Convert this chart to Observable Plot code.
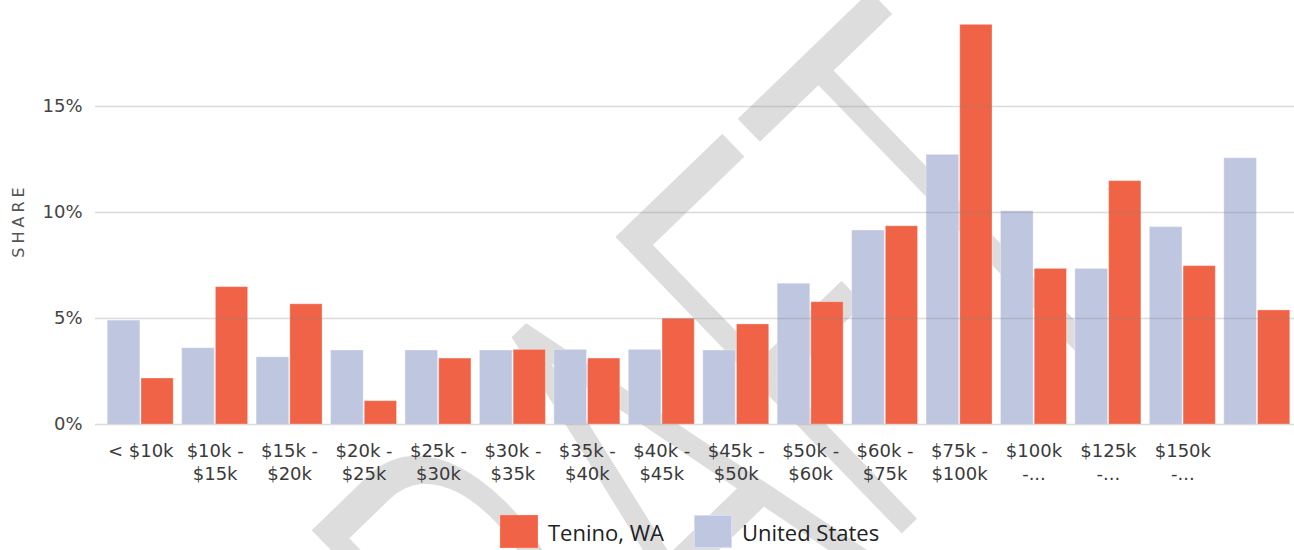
<!DOCTYPE html>
<html>
<head>
<meta charset="utf-8">
<script src="https://cdn.jsdelivr.net/npm/d3@7"></script>
<script src="https://cdn.jsdelivr.net/npm/@observablehq/plot@0.6"></script>
<style>
  html, body { margin: 0; padding: 0; background: #fff; }
  #wrap { position: relative; width: 1294px; height: 550px; overflow: hidden; }
  #legend { position: absolute; left: 500px; top: 515px; display: flex; align-items: center;
            font-family: "Open Sans", "Noto Sans", sans-serif; font-size: 22px; color: #222; }
  .item { display: flex; align-items: center; }
  .sw { width: 38px; height: 33px; box-sizing: border-box; margin-right: 10px; }
</style>
</head>
<body>
<div id="wrap"><div id="chart"></div><div id="legend"></div></div>
<script>
// ---- data (percent share of households by income bracket) ----
const categories = ["< $10k", "$10k - $15k", "$15k - $20k", "$20k - $25k", "$25k - $30k", "$30k - $35k",
  "$35k - $40k", "$40k - $45k", "$45k - $50k", "$50k - $60k", "$60k - $75k", "$75k - $100k",
  "$100k - $125k", "$125k - $150k", "$150k - $200k", "$200k+"];
const tickLabels = ["< $10k", "$10k -\n$15k", "$15k -\n$20k", "$20k -\n$25k", "$25k -\n$30k", "$30k -\n$35k",
  "$35k -\n$40k", "$40k -\n$45k", "$45k -\n$50k", "$50k -\n$60k", "$60k -\n$75k", "$75k -\n$100k",
  "$100k\n-...", "$125k\n-...", "$150k\n-...", ""];
const unitedStates = [4.9, 3.6, 3.17, 3.49, 3.49, 3.49, 3.52, 3.52, 3.49, 6.64, 9.15, 12.72, 10.06, 7.34, 9.31, 12.56];
const tenino       = [2.17, 6.48, 5.67, 1.1, 3.11, 3.52, 3.11, 4.99, 4.72, 5.77, 9.35, 18.85, 7.34, 11.48, 7.47, 5.38];
const seriesNames = ["Tenino, WA", "United States"];
const seriesColors = ["#f06346", "#bfc7e0"];
const yTicks = [0, 5, 10, 15];
const watermarkText = "DRAFT";
const axisTitle = "SHARE";

// ---- table built from the arrays ----
const rows = categories.flatMap((c, i) => [
  {i, cat: c, series: "United States", value: unitedStates[i]},
  {i, cat: c, series: "Tenino, WA", value: tenino[i]}
]);
const isUS = d => d.series === "United States";

const chart = Plot.plot({
  width: 1294, height: 550,
  marginLeft: 103, marginRight: 0, marginTop: 0, marginBottom: 126,
  style: {background: "transparent", fontFamily: "DejaVu Sans, sans-serif", fontSize: "18px", color: "#444"},
  x: {domain: [0, categories.length], axis: null},
  y: {domain: [0, 20], ticks: yTicks, tickFormat: d => d + "%", tickSize: 0, tickPadding: 21, label: null},
  color: {domain: seriesNames, range: seriesColors},
  marks: [
    Plot.rect(rows, {
      x1: d => d.i + (isUS(d) ? 0.057 : 0.51),
      x2: d => d.i + (isUS(d) ? 0.495 : 0.943),
      y1: 0, y2: "value", fill: "series",
      stroke: "#fff", strokeOpacity: 0.3, strokeWidth: 1
    }),
    Plot.ruleY(yTicks, {stroke: "#888", strokeOpacity: 0.3, strokeWidth: 1.6, insetLeft: -8}),
    Plot.text(tickLabels, {x: (d, i) => i + 0.5, y: 0, text: d => d, lineAnchor: "top",
      lineHeight: 1.28, dy: 16, fill: "#3a3a3a", fontSize: 18}),
    Plot.text([axisTitle], {frameAnchor: "left", textAnchor: "middle", dx: -85, dy: 8, rotate: -90,
      text: d => d, fill: "#555", fontSize: 16})
  ]
});
document.getElementById("chart").appendChild(chart);

// letter spacing for the axis title
d3.select(chart).selectAll("text").filter(function() { return this.textContent === axisTitle; })
  .style("letter-spacing", "4px");

// watermark behind the marks
const styleEl = chart.querySelector("style");
const wm = document.createElementNS("http://www.w3.org/2000/svg", "text");
wm.textContent = watermarkText;
wm.setAttribute("text-anchor", "middle");
wm.setAttribute("transform", "translate(790,640) rotate(-44) scale(0.58,1)");
wm.setAttribute("font-family", "Roboto, sans-serif");
wm.setAttribute("font-weight", "300");
wm.setAttribute("font-size", "577");
wm.setAttribute("fill", "#dddddd");
wm.setAttribute("stroke", "#dddddd");
wm.setAttribute("stroke-width", "2");
wm.setAttribute("stroke-linejoin", "round");
chart.insertBefore(wm, styleEl ? styleEl.nextSibling : chart.firstChild);

// legend
const legend = d3.select("#legend");
seriesNames.forEach((name, k) => {
  const item = legend.append("div").attr("class", "item").style("margin-right", k === 0 ? "30px" : "0");
  item.append("div").attr("class", "sw")
    .style("background", seriesColors[k])
    .style("border", "1px solid " + d3.color(seriesColors[k]).brighter(0.3));
  item.append("span").text(name);
});
</script>
</body>
</html>
